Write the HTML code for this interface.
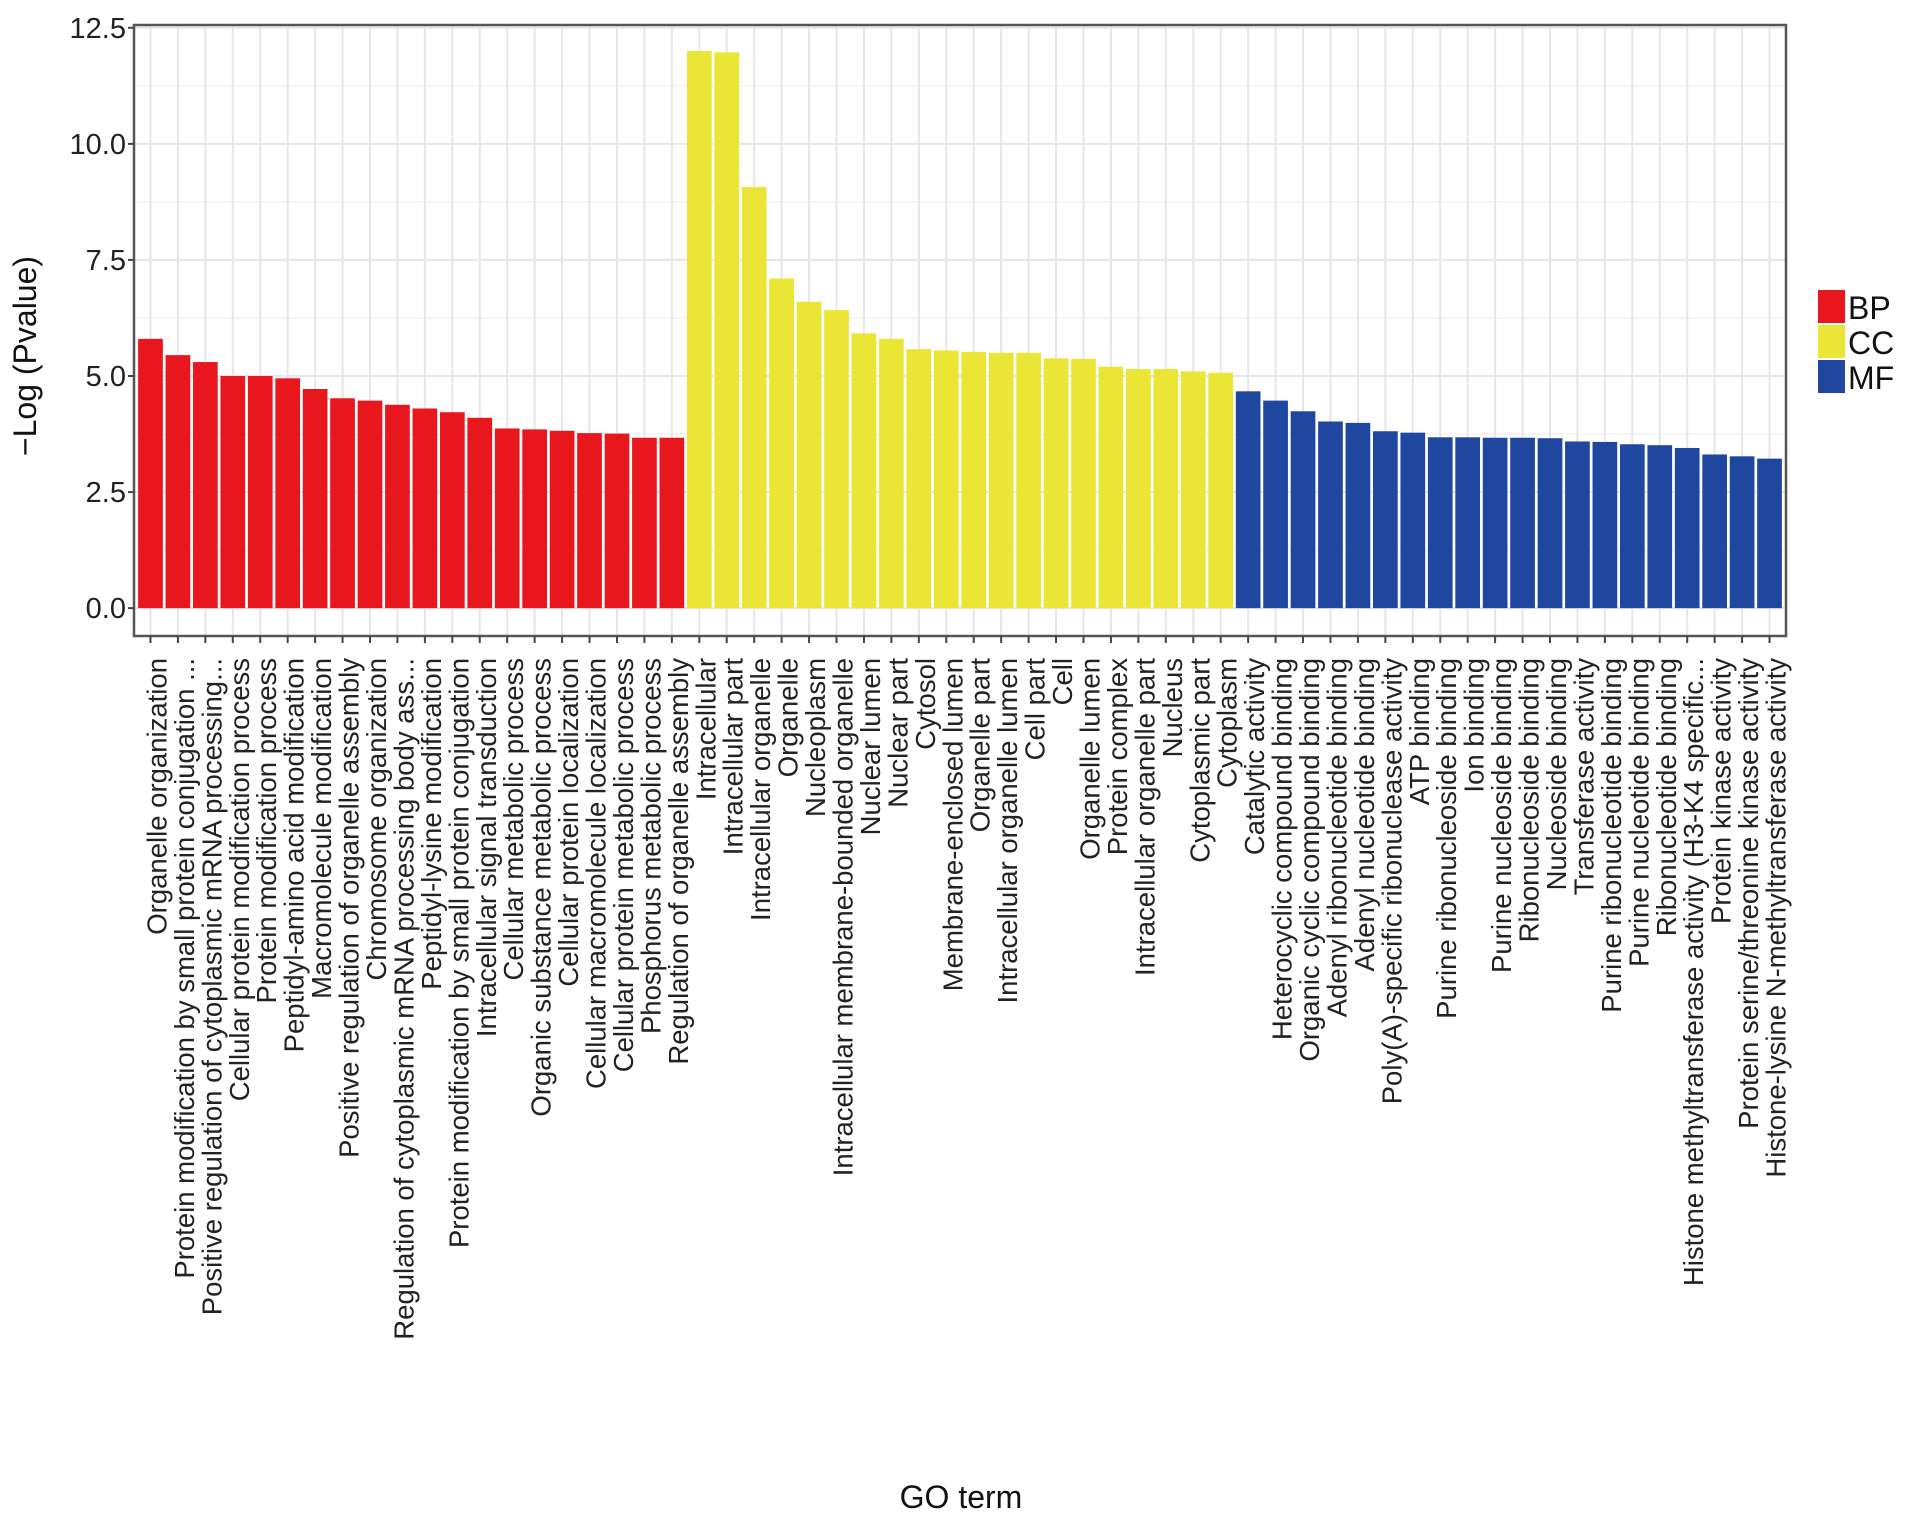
<!DOCTYPE html>
<html><head><meta charset="utf-8"><style>
html,body{margin:0;padding:0;background:#fff;}
svg{display:block;font-family:"Liberation Sans",Arial,sans-serif;}
</style></head><body>
<svg id="chart" width="1913" height="1521" viewBox="0 0 1913 1521" xmlns="http://www.w3.org/2000/svg">
<g id="grid"></g>
<g id="bars"></g>
<rect x="134" y="25" width="1652" height="611" fill="none" stroke="#555" stroke-width="2.5"/>
<g id="yaxis"></g>
<g id="xaxis"></g>
<text x="0" y="0" transform="translate(36,356) rotate(-90)" text-anchor="middle" font-size="32" fill="#111">−Log (Pvalue)</text>
<text x="961" y="1508" text-anchor="middle" font-size="32" fill="#111">GO term</text>
<g id="legend"></g>
</svg>
<script>
const bpLabels = ["Organelle organization","Protein modification by small protein conjugation ...","Positive regulation of cytoplasmic mRNA processing...","Cellular protein modification process","Protein modification process","Peptidyl-amino acid modification","Macromolecule modification","Positive regulation of organelle assembly","Chromosome organization","Regulation of cytoplasmic mRNA processing body ass...","Peptidyl-lysine modification","Protein modification by small protein conjugation","Intracellular signal transduction","Cellular metabolic process","Organic substance metabolic process","Cellular protein localization","Cellular macromolecule localization","Cellular protein metabolic process","Phosphorus metabolic process","Regulation of organelle assembly"];
const bpValues = [5.8,5.45,5.3,5.0,5.0,4.95,4.72,4.52,4.47,4.38,4.3,4.22,4.1,3.87,3.85,3.82,3.77,3.76,3.67,3.67];
const ccLabels = ["Intracellular","Intracellular part","Intracellular organelle","Organelle","Nucleoplasm","Intracellular membrane-bounded organelle","Nuclear lumen","Nuclear part","Cytosol","Membrane-enclosed lumen","Organelle part","Intracellular organelle lumen","Cell part","Cell","Organelle lumen","Protein complex","Intracellular organelle part","Nucleus","Cytoplasmic part","Cytoplasm"];
const ccValues = [12.0,11.97,9.07,7.1,6.6,6.42,5.92,5.8,5.58,5.55,5.52,5.5,5.5,5.38,5.37,5.2,5.15,5.15,5.1,5.07];
const mfLabels = ["Catalytic activity","Heterocyclic compound binding","Organic cyclic compound binding","Adenyl ribonucleotide binding","Adenyl nucleotide binding","Poly(A)-specific ribonuclease activity","ATP binding","Purine ribonucleoside binding","Ion binding","Purine nucleoside binding","Ribonucleoside binding","Nucleoside binding","Transferase activity","Purine ribonucleotide binding","Purine nucleotide binding","Ribonucleotide binding","Histone methyltransferase activity (H3-K4 specific...","Protein kinase activity","Protein serine/threonine kinase activity","Histone-lysine N-methyltransferase activity"];
const mfValues = [4.67,4.47,4.24,4.02,3.99,3.81,3.78,3.68,3.68,3.67,3.67,3.66,3.59,3.58,3.53,3.51,3.45,3.31,3.27,3.22];
const groups = ["BP","CC","MF"];
const yTicks = [0,2.5,5,7.5,10,12.5];
const yTickLabels = ["0.0","2.5","5.0","7.5","10.0","12.5"];

const NS="http://www.w3.org/2000/svg";
const colors={BP:"#e8161d",CC:"#ebe536",MF:"#1f47a0"};
const labels=[...bpLabels,...ccLabels,...mfLabels];
const values=[...bpValues,...ccValues,...mfValues];
const cats=[...bpLabels.map(()=>"BP"),...ccLabels.map(()=>"CC"),...mfLabels.map(()=>"MF")];
const n=labels.length;
const L=134,R=1786,T=25,B=636;
const yMin=-0.6,yMax=12.56;
const step=(R-L)/(n+0.2);
function xPos(i){return L+step*(0.6+i);}
function yPos(v){return B-(v-yMin)/(yMax-yMin)*(B-T);}
function mk(t,a,p){const e=document.createElementNS(NS,t);for(const k in a)e.setAttribute(k,a[k]);p.appendChild(e);return e;}
const grid=document.getElementById('grid'),bars=document.getElementById('bars'),ya=document.getElementById('yaxis'),xa=document.getElementById('xaxis'),lg=document.getElementById('legend');
for(let k=0;k<yTicks.length-1;k++){const v=(yTicks[k]+yTicks[k+1])/2;const g=mk('line',{x1:L,x2:R,y1:yPos(v),y2:yPos(v),stroke:'#f2f2f2','stroke-width':1.5},grid);

}
yTicks.forEach((v,k)=>{const g=mk('line',{x1:L,x2:R,y1:yPos(v),y2:yPos(v),stroke:'#e6e6e6','stroke-width':2},grid);


const tk=mk('line',{x1:L-6,x2:L,y1:yPos(v),y2:yPos(v),stroke:'#444','stroke-width':2},ya);


const t=mk('text',{x:L-8,y:yPos(v)+10,'text-anchor':'end','font-size':29,fill:'#222'},ya);
t.textContent=yTickLabels[k];

});
labels.forEach((lab,i)=>{const x=xPos(i);
const g=mk('line',{x1:x,x2:x,y1:T,y2:B,stroke:'#e6e6e6','stroke-width':2},grid);


const bw=step*0.9;
const r=mk('rect',{x:x-bw/2,y:yPos(values[i]),width:bw,height:yPos(0)-yPos(values[i]),fill:colors[cats[i]]},bars);


const tk=mk('line',{x1:x,x2:x,y1:B,y2:B+7,stroke:'#444','stroke-width':2},xa);


const t=mk('text',{x:0,y:0,transform:`translate(${x+16},${B+22}) rotate(-90)`,'text-anchor':'end','font-size':27.5,fill:'#222'},xa);
t.textContent=lab;

});
groups.forEach((gname,k)=>{const y=290+k*35;
const r=mk('rect',{x:1818,y:y,width:27,height:33,fill:colors[gname]},lg);


const t=mk('text',{x:1848,y:y+29,'font-size':32,fill:'#111'},lg);
t.textContent=gname;

});
</script>
</body></html>
